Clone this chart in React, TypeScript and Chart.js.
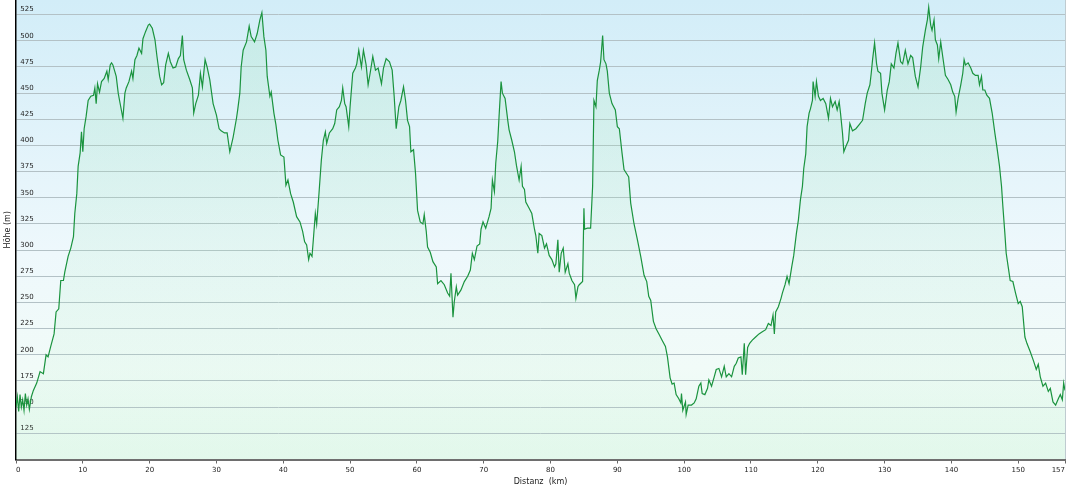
import React, { useEffect, useRef } from 'react';
import { Chart, registerables } from 'chart.js';

Chart.register(...registerables);

const distanceKm = [
  0, 0.2, 0.4, 0.6, 0.8, 1.0, 1.2, 1.4, 1.6, 1.8, 2.0, 2.3, 2.6, 3.1, 3.6, 4.1, 4.5, 4.8, 5.2, 5.7,
  6.0, 6.4, 6.7, 7.1, 7.3, 7.8, 8.2, 8.6, 8.8, 9.1, 9.3, 9.6, 9.8, 10.0, 10.2, 10.5, 10.8, 11.2, 11.6, 11.8,
  12.0, 12.2, 12.5, 12.8, 13.2, 13.6, 13.8, 14.1, 14.3, 14.5, 15.0, 15.3, 15.5, 16.0, 16.3, 16.5, 16.9, 17.3, 17.5, 17.8,
  18.1, 18.4, 18.8, 19.0, 19.4, 19.8, 20.0, 20.4, 20.8, 21.1, 21.5, 21.8, 22.1, 22.4, 22.8, 23.1, 23.5, 23.9, 24.3, 24.6,
  24.9, 25.1, 25.5, 26.0, 26.4, 26.6, 26.9, 27.3, 27.6, 27.9, 28.3, 28.6, 29.0, 29.5, 30.0, 30.4, 30.7, 31.2, 31.6, 32.0,
  32.5, 33.0, 33.2, 33.5, 33.7, 34.0, 34.5, 34.9, 35.2, 35.7, 36.1, 36.5, 36.8, 37.1, 37.4, 37.6, 38.0, 38.2, 38.6, 38.9,
  39.2, 39.6, 40.1, 40.4, 40.7, 41.1, 41.5, 42.0, 42.5, 42.9, 43.2, 43.5, 43.8, 44.0, 44.3, 44.5, 44.8, 45.0, 45.3, 45.7,
  46.0, 46.3, 46.5, 46.9, 47.4, 47.7, 48.0, 48.4, 48.7, 48.9, 49.2, 49.4, 49.8, 50.0, 50.4, 50.8, 51.0, 51.3, 51.7, 52.0,
  52.4, 52.7, 53.0, 53.4, 53.8, 54.2, 54.7, 55.0, 55.4, 55.9, 56.3, 56.6, 56.9, 57.3, 57.6, 58.0, 58.3, 58.6, 58.9, 59.1,
  59.5, 59.8, 60.1, 60.5, 60.9, 61.1, 61.4, 61.6, 62.0, 62.4, 62.9, 63.1, 63.6, 64.1, 64.6, 64.9, 65.1, 65.4, 65.6, 65.9,
  66.1, 66.6, 67.1, 67.6, 68.0, 68.3, 68.6, 69.0, 69.4, 69.6, 69.9, 70.3, 70.8, 71.1, 71.3, 71.6, 71.8, 72.1, 72.3, 72.6,
  72.8, 73.2, 73.6, 73.8, 74.2, 74.6, 74.9, 75.3, 75.6, 75.8, 76.1, 76.3, 76.8, 77.2, 77.6, 77.8, 78.1, 78.3, 78.7, 79.1,
  79.4, 79.8, 80.2, 80.6, 80.8, 81.1, 81.3, 81.6, 81.9, 82.2, 82.6, 82.8, 83.2, 83.6, 83.8, 84.1, 84.3, 84.8, 85.0, 85.1,
  85.5, 86.0, 86.3, 86.5, 86.8, 87.0, 87.3, 87.5, 87.8, 88.0, 88.3, 88.5, 88.8, 89.2, 89.7, 90.0, 90.3, 90.7, 91.0, 91.4,
  91.7, 92.0, 92.5, 93.0, 93.5, 94.0, 94.4, 94.7, 95.0, 95.4, 95.8, 96.3, 96.7, 97.2, 97.5, 97.9, 98.2, 98.5, 98.8, 99.2,
  99.5, 99.6, 99.8, 100.2, 100.3, 100.6, 101.1, 101.5, 101.8, 102.2, 102.5, 102.7, 103.1, 103.5, 103.7, 104.1, 104.5, 104.8, 105.2, 105.6,
  106.0, 106.3, 106.7, 107.1, 107.5, 107.8, 108.1, 108.5, 108.7, 109.0, 109.2, 109.5, 109.8, 110.2, 110.7, 111.2, 111.7, 112.2, 112.6, 113.0,
  113.3, 113.5, 113.7, 114.1, 114.5, 114.7, 115.1, 115.4, 115.7, 116.1, 116.4, 116.8, 117.1, 117.4, 117.7, 117.9, 118.2, 118.4, 118.7, 118.9,
  119.2, 119.3, 119.6, 119.8, 120.1, 120.4, 120.8, 121.2, 121.6, 121.9, 122.2, 122.6, 122.9, 123.2, 123.4, 123.7, 123.9, 124.2, 124.6, 124.8,
  125.2, 125.7, 126.2, 126.7, 127.1, 127.4, 127.8, 128.0, 128.2, 128.5, 128.8, 129.0, 129.4, 129.6, 130.0, 130.4, 130.7, 131.0, 131.4, 131.7,
  132.0, 132.4, 132.7, 133.1, 133.5, 133.9, 134.2, 134.6, 135.0, 135.4, 135.7, 136.1, 136.4, 136.6, 136.9, 137.1, 137.4, 137.6, 137.9, 138.1,
  138.4, 138.7, 139.1, 139.5, 139.9, 140.2, 140.5, 140.7, 141.0, 141.4, 141.7, 141.9, 142.1, 142.5, 142.9, 143.2, 143.6, 144.0, 144.2, 144.5,
  144.7, 145.0, 145.3, 145.7, 146.1, 146.5, 146.8, 147.2, 147.5, 147.7, 148.0, 148.2, 148.5, 148.8, 149.2, 149.6, 150.0, 150.3, 150.6, 151.0,
  151.3, 151.8, 152.3, 152.7, 153.0, 153.3, 153.7, 154.1, 154.5, 154.8, 155.2, 155.6, 156.0, 156.3, 156.6, 156.8, 157.0,
];

const elevationM = [
  150, 160, 146, 162, 150, 157, 147, 163, 152, 158, 148, 160, 166, 173, 184, 182, 200, 198, 208, 220,
  241, 244, 271, 271, 279, 294, 302, 313, 335, 354, 380, 393, 413, 394, 416, 428, 443, 447, 448, 455,
  440, 459, 451, 461, 464, 471, 463, 477, 479, 477, 466, 450, 443, 426, 450, 455, 461, 471, 464, 482,
  486, 493, 488, 502, 509, 515, 516, 512, 501, 485, 466, 458, 460, 477, 488, 480, 474, 475, 483, 486,
  505, 482, 472, 463, 455, 431, 440, 448, 469, 456, 482, 475, 463, 440, 429, 416, 414, 412, 412, 394,
  408, 426, 435, 450, 475, 491, 499, 514, 504, 499, 507, 520, 527, 504, 491, 466, 447, 451, 431, 420,
  405, 391, 389, 362, 367, 354, 346, 332, 327, 318, 308, 305, 291, 297, 294, 310, 335, 325, 350, 386,
  405, 413, 402, 412, 416, 421, 434, 437, 443, 455, 440, 437, 418, 437, 469, 474, 478, 491, 475, 491,
  477, 458, 469, 485, 472, 474, 459, 474, 483, 480, 472, 447, 416, 437, 443, 456, 443, 424, 418, 394,
  396, 373, 338, 327, 325, 334, 318, 303, 298, 289, 284, 268, 271, 267, 259, 256, 278, 236, 251, 265,
  257, 262, 270, 275, 281, 297, 291, 304, 306, 320, 327, 321, 332, 340, 367, 356, 383, 404, 428, 461,
  450, 445, 424, 415, 405, 394, 381, 367, 380, 361, 358, 346, 340, 335, 320, 314, 297, 316, 314, 302,
  306, 295, 291, 284, 287, 310, 279, 297, 302, 279, 287, 278, 271, 267, 254, 265, 267, 270, 340, 320,
  321, 321, 361, 443, 437, 462, 472, 480, 505, 482, 478, 471, 450, 440, 434, 418, 416, 393, 377, 373,
  370, 345, 325, 310, 294, 276, 270, 256, 252, 232, 225, 219, 214, 208, 198, 178, 172, 173, 162, 158,
  154, 163, 147, 155, 143, 152, 152, 154, 158, 170, 173, 163, 162, 168, 176, 170, 179, 186, 187, 179,
  189, 179, 182, 179, 189, 192, 197, 198, 181, 211, 181, 207, 211, 214, 217, 220, 222, 224, 230, 228,
  238, 220, 241, 246, 254, 259, 267, 275, 268, 284, 295, 316, 329, 348, 361, 378, 392, 418, 431, 435,
  443, 461, 447, 461, 447, 443, 445, 440, 426, 445, 437, 442, 434, 442, 431, 412, 394, 399, 405, 421,
  414, 416, 420, 424, 440, 450, 458, 469, 482, 498, 478, 471, 469, 450, 434, 453, 461, 478, 474, 488,
  498, 480, 478, 491, 478, 486, 484, 466, 456, 475, 494, 510, 520, 532, 515, 510, 520, 501, 496, 483,
  499, 485, 467, 463, 458, 451, 447, 432, 445, 458, 469, 482, 477, 479, 474, 469, 467, 467, 458, 466,
  453, 453, 448, 445, 431, 412, 399, 380, 361, 342, 316, 297, 284, 271, 270, 259, 249, 251, 246, 217,
  211, 203, 194, 186, 191, 179, 170, 173, 165, 168, 155, 152, 158, 162, 157, 173, 166,
];

const yTickValues = [125, 150, 175, 200, 225, 250, 275, 300, 325, 350, 375, 400, 425, 450, 475, 500, 525];
const xTickValues = [0, 10, 20, 30, 40, 50, 60, 70, 80, 90, 100, 110, 120, 130, 140, 150, 157];

const FONT = 'DejaVu Sans';

export default function App() {
  const ref = useRef<HTMLCanvasElement>(null);

  useEffect(() => {
    const canvas = ref.current;
    if (!canvas) return;

    const bgPlugin = {
      id: 'plotBackground',
      beforeDraw(chart: any) {
        const { ctx, chartArea: a } = chart;
        if (!a) return;
        const g = ctx.createLinearGradient(0, a.top, 0, a.bottom);
        g.addColorStop(0, '#d2edf8');
        g.addColorStop(0.55, '#eef8fc');
        g.addColorStop(0.8, '#f1fbf8');
        g.addColorStop(1, '#e6f9ee');
        ctx.save();
        ctx.fillStyle = g;
        ctx.fillRect(a.left, a.top, a.right - a.left, a.bottom - a.top);
        ctx.restore();
      },
    };

    const chart = new Chart(canvas, {
      type: 'line',
      data: {
        datasets: [
          {
            data: distanceKm.map((x, i) => ({ x, y: elevationM[i] })),
            borderColor: '#1a933e',
            borderWidth: 1.2,
            pointRadius: 0,
            tension: 0,
            fill: 'start',
            backgroundColor: (c: any) => {
              const a = c.chart.chartArea;
              if (!a) return 'rgba(150,225,170,0.18)';
              const g = c.chart.ctx.createLinearGradient(0, a.top, 0, a.bottom);
              g.addColorStop(0, 'rgba(150,225,175,0.24)');
              g.addColorStop(1, 'rgba(180,238,200,0.08)');
              return g;
            },
          },
        ],
      },
      options: {
        animation: false,
        responsive: false,
        maintainAspectRatio: false,
        layout: { padding: { top: 12, right: 5, left: 0, bottom: 0 } },
        plugins: {
          legend: { display: false },
          tooltip: { enabled: false },
        },
        scales: {
          x: {
            type: 'linear',
            min: 0,
            max: 157,
            afterBuildTicks: (s: any) => {
              s.ticks = xTickValues.map((v) => ({ value: v }));
            },
            ticks: {
              align: 'inner',
              padding: 2,
              autoSkip: false,
              maxRotation: 0,
              color: '#222',
              font: { family: FONT, size: 7 },
            },
            grid: {
              color: (c: any) => (c.tick && c.tick.value === 157 ? '#bfcbd0' : 'rgba(0,0,0,0)'),
              tickColor: '#666',
              tickLength: 4,
              lineWidth: 1,
            },
            border: { color: '#6e6e6e', width: 2 },
            title: {
              display: true,
              text: 'Distanz  (km)',
              color: '#222',
              font: { family: FONT, size: 8 },
              padding: { top: 1.3, bottom: 4.2 },
            },
          },
          y: {
            type: 'linear',
            min: 100,
            max: 539,
            afterBuildTicks: (s: any) => {
              s.ticks = yTickValues.map((v) => ({ value: v }));
            },
            ticks: {
              mirror: true,
              padding: 4.25,
              labelOffset: -5,
              autoSkip: false,
              color: '#222',
              font: { family: FONT, size: 7 },
            },
            grid: { color: '#b3c1c6', drawTicks: false, lineWidth: 1 },
            border: { color: '#000', width: 1.5 },
            title: {
              display: true,
              text: 'Höhe (m)',
              color: '#222',
              font: { family: FONT, size: 8, lineHeight: 0 },
              padding: { top: 7.5, bottom: 0 },
            },
          },
        },
      },
      plugins: [bgPlugin],
    } as any);

    return () => chart.destroy();
  }, []);

  return (
    <div style={{ position: 'fixed', left: 0, top: -12, width: 1070, height: 503, background: '#fff' }}>
      <canvas ref={ref} width={1070} height={503} style={{ display: 'block', width: 1070, height: 503 }} />
    </div>
  );
}
